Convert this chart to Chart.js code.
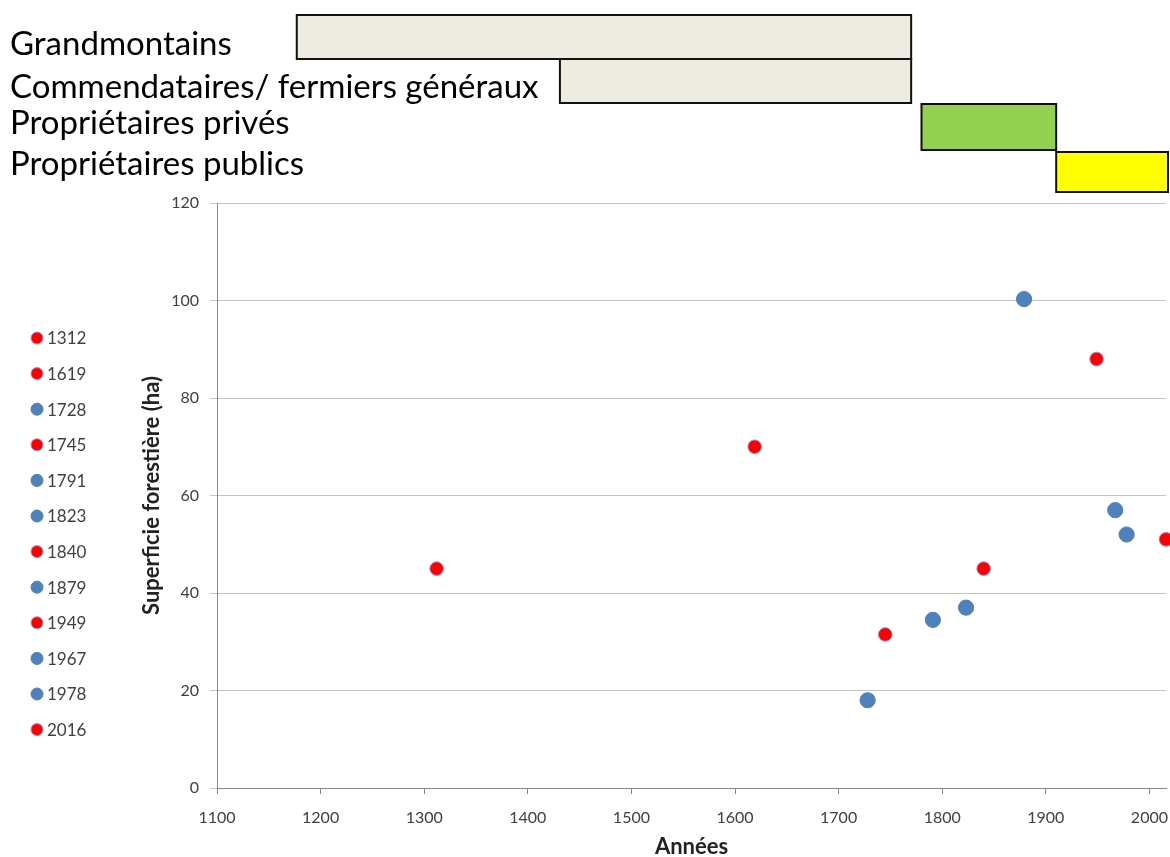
<!DOCTYPE html>
<html><head><meta charset="utf-8">
<script src="https://cdn.jsdelivr.net/npm/chart.js@4/dist/chart.umd.min.js"></script>
<style>html,body{margin:0;padding:0;background:#fff;overflow:hidden}#wrap{width:1170px;height:857px}</style>
</head><body><div id="wrap"><canvas id="c" width="1170" height="857"></canvas></div>
<script>
// ---- data ----
const years = [1312, 1619, 1728, 1745, 1791, 1823, 1840, 1879, 1949, 1967, 1978, 2016];
const surfaces = [45, 70, 18, 31.5, 34.5, 37, 45, 100.3, 88, 57, 52, 51];
const groups = ['r', 'r', 'b', 'r', 'b', 'b', 'r', 'b', 'r', 'b', 'b', 'r'];
const xTicks = [1100, 1200, 1300, 1400, 1500, 1600, 1700, 1800, 1900, 2000];
const yTicks = [0, 20, 40, 60, 80, 100, 120];
const periods = ['Grandmontains', 'Commendataires/ fermiers généraux', 'Propriétaires privés', 'Propriétaires publics'];
const periodStart = [1177, 1431, 1780, 1910];
const periodEnd = [1770, 1770, 1910, 2018];
const periodColors = ['#eeebe0', '#eeebe0', '#92d050', '#ffff00'];

// ---- styles ----
const FONT = 'Lato, "Open Sans", sans-serif';
const style = {
  r: {bg: '#ff0000', border: '#9a8fc8', radius: 6.8},
  b: {bg: '#4f81bd', border: '#4a7ebb', radius: 7.6}
};
const rows = [ // top, bottom, text baseline
  {top: 15, bottom: 59, base: 55},
  {top: 59, bottom: 103, base: 98},
  {top: 104, bottom: 150, base: 134},
  {top: 152, bottom: 192, base: 175}
];

const datasets = years.map((yr, i) => ({
  label: String(yr),
  data: [{x: yr, y: surfaces[i]}],
  backgroundColor: style[groups[i]].bg,
  borderColor: style[groups[i]].border,
  borderWidth: 1,
  pointRadius: style[groups[i]].radius,
  pointHoverRadius: style[groups[i]].radius,
  clip: false
}));

const decor = {
  id: 'decor',
  afterDraw(chart) {
    const ctx = chart.ctx;
    const xs = chart.scales.x;
    ctx.save();
    // period bars + labels
    periods.forEach((name, i) => {
      const r = rows[i];
      const x0 = xs.getPixelForValue(periodStart[i]);
      const x1 = Math.min(xs.getPixelForValue(periodEnd[i]), chart.width - 2);
      ctx.fillStyle = periodColors[i];
      ctx.fillRect(x0, r.top, x1 - x0, r.bottom - r.top);
      ctx.lineWidth = 2;
      ctx.strokeStyle = '#111';
      ctx.strokeRect(x0, r.top, x1 - x0, r.bottom - r.top);
      ctx.fillStyle = '#000';
      ctx.font = '33px ' + FONT;
      ctx.textAlign = 'left';
      ctx.textBaseline = 'alphabetic';
      ctx.fillText(name, 10, r.base);
    });
    // legend
    chart.data.datasets.forEach((ds, i) => {
      const y = 338 + i * 35.6;
      ctx.beginPath();
      ctx.arc(37, y, 6, 0, Math.PI * 2);
      ctx.fillStyle = ds.backgroundColor;
      ctx.fill();
      ctx.lineWidth = 1;
      ctx.strokeStyle = ds.borderColor;
      ctx.stroke();
      ctx.fillStyle = '#404040';
      ctx.font = '17px ' + FONT;
      ctx.textBaseline = 'middle';
      ctx.fillText(ds.label, 47, y + 1);
    });
    ctx.restore();
  }
};

new Chart(document.getElementById('c'), {
  type: 'scatter',
  data: {datasets},
  plugins: [decor],
  options: {
    responsive: false,
    animation: false,
    devicePixelRatio: 1,
    layout: {autoPadding: false, padding: {left: 136, right: 4, top: 203, bottom: 0}},
    plugins: {legend: {display: false}, tooltip: {enabled: false}},
    scales: {
      x: {
        type: 'linear', position: 'bottom', min: 1100, max: 2016,
        afterBuildTicks: s => { s.ticks = xTicks.map(v => ({value: v})); },
        afterFit: s => { s.height = 69; s.paddingLeft = 0; s.paddingRight = 0; },
        ticks: {font: {family: FONT, size: 16}, color: '#404040', padding: 14, maxRotation: 0, autoSkip: false,
          callback: v => String(v)},
        grid: {drawOnChartArea: false, drawTicks: true, tickLength: 6, color: '#868686'},
        border: {color: '#868686'},
        title: {display: true, text: 'Années', font: {family: FONT, size: 22, weight: 'bold'}, color: '#222', padding: {top: 0, bottom: -3}}
      },
      y: {
        min: 0, max: 120,
        afterBuildTicks: s => { s.ticks = yTicks.map(v => ({value: v})); },
        afterFit: s => { s.width = 81; },
        ticks: {font: {family: FONT, size: 16}, color: '#404040', padding: 11, callback: v => String(v)},
        grid: {color: '#c4c4c4', tickLength: 7},
        border: {color: '#868686'},
        title: {display: true, text: 'Superficie forestière (ha)', font: {family: FONT, size: 22, weight: 'bold'}, color: '#222', padding: {top: 3, bottom: 0}}
      }
    }
  }
});
</script></body></html>
